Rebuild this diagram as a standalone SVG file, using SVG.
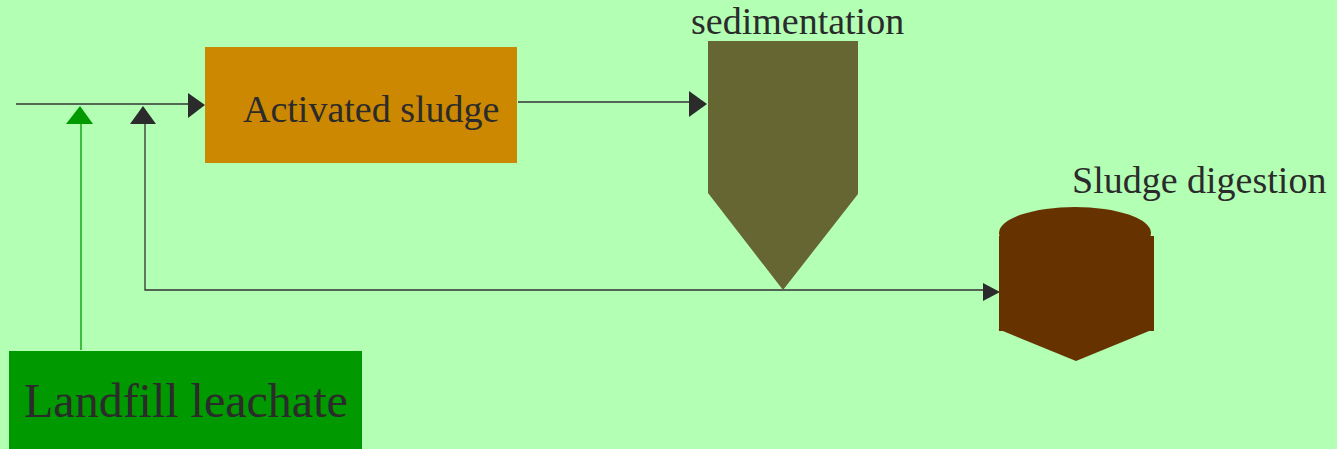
<svg xmlns="http://www.w3.org/2000/svg" width="1337" height="449" viewBox="0 0 1337 449">
<style>
.lbl{font-family:"Liberation Serif","Times New Roman",serif;fill:#2b2b2b}
.ln{stroke:#333;stroke-width:1.3;fill:none}
.ah{fill:#2b2b2b}
</style>
<rect x="0" y="0" width="1337" height="449" fill="#b3ffb3"/>
<g id="connectors">
<line class="ln" x1="16" y1="104" x2="190" y2="104"/>
<polygon class="ah" points="188,93 205,105 188,118"/>
<line x1="81" y1="122" x2="81" y2="350" stroke="#009900" stroke-width="1.3"/>
<polygon fill="#009900" points="80,106 93,124 66,124"/>
<polyline class="ln" points="145,122 145,290 985,290"/>
<polygon class="ah" points="143,106 156,124 130,124"/>
<line class="ln" x1="518" y1="102" x2="692" y2="102"/>
<polygon class="ah" points="689,91 707,104 689,117"/>
<polygon class="ah" points="983,283 1000,292 983,301"/>
</g>
<g id="activated-sludge">
<rect x="205" y="47" width="312" height="116" fill="#cc8800"/>
<text class="lbl" x="243" y="122" font-size="38">Activated sludge</text>
</g>
<g id="sedimentation">
<polygon fill="#666633" points="708,41 858,41 858,194 783,290 708,193"/>
<text class="lbl" x="691" y="34" font-size="38">sedimentation</text>
</g>
<g id="sludge-digestion">
<ellipse cx="1075" cy="233" rx="76" ry="26" fill="#663300"/>
<rect x="999" y="236" width="155" height="95" fill="#663300"/>
<polygon fill="#663300" points="998,329 1154,329 1076,361"/>
<text class="lbl" x="1072" y="193" font-size="38">Sludge digestion</text>
</g>
<g id="landfill-leachate">
<rect x="9" y="351" width="353" height="98" fill="#009900"/>
<text class="lbl" x="24" y="417" font-size="48">Landfill leachate</text>
</g>
</svg>
